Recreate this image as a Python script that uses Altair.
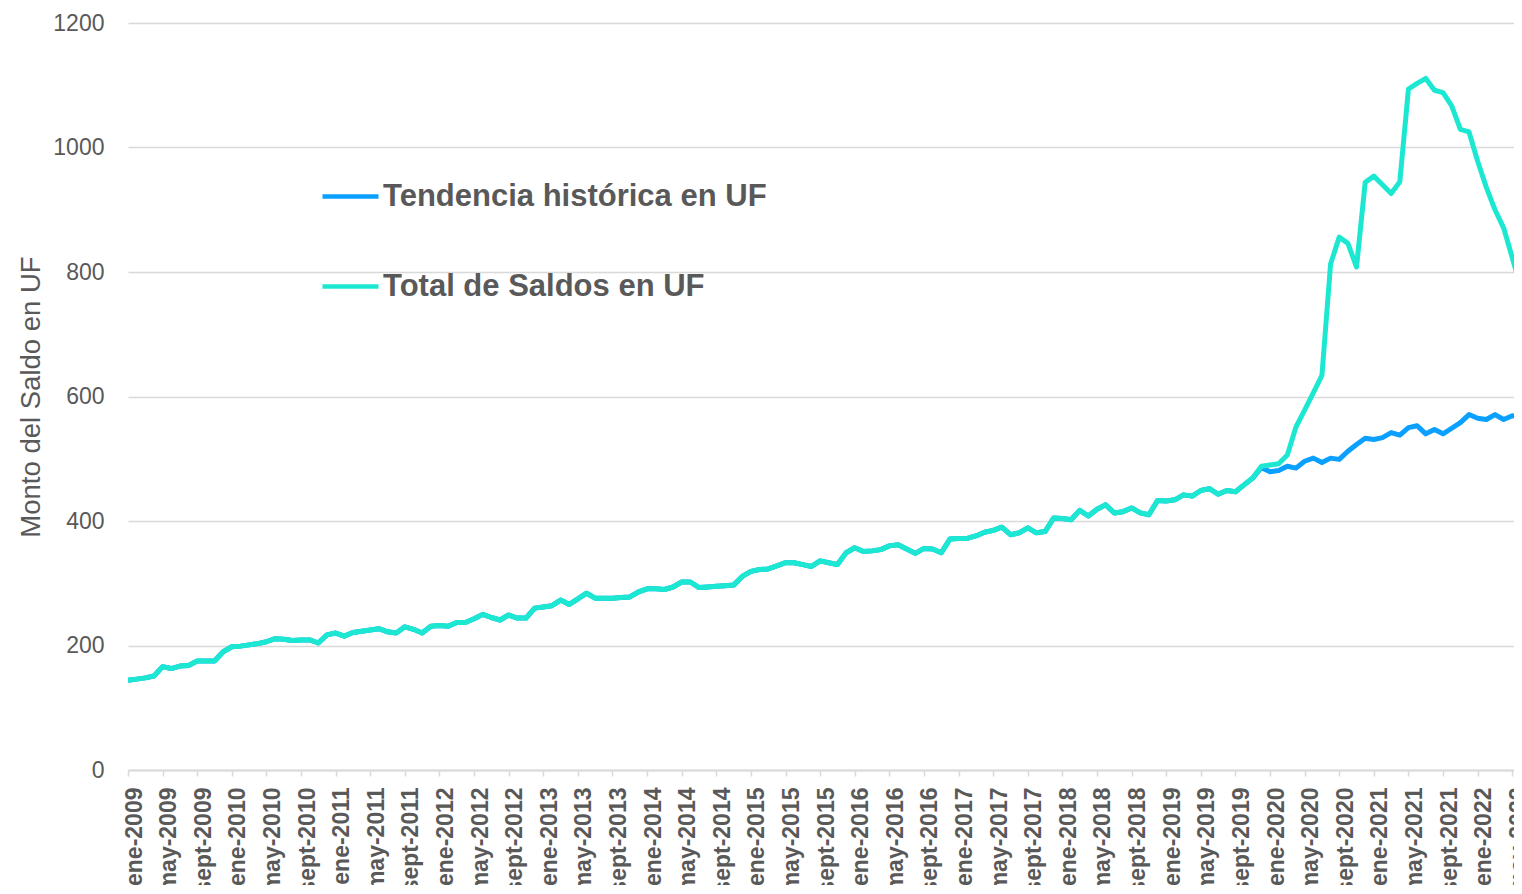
import json
import altair as alt
import pandas as pd

# Monthly balances, ene-2009 onward (index 0 = ene-2009)
total_saldos = [
    144, 146, 148, 151, 166, 163, 167, 168, 175, 175, 175, 190,   # 2009
    198, 199, 201, 203, 206, 211, 210, 208, 209, 209, 204, 217,   # 2010
    220, 215, 221, 223, 225, 227, 222, 220, 230, 226, 220, 231,   # 2011
    232, 231, 237, 237, 243, 250, 245, 241, 249, 244, 244, 260,   # 2012
    262, 264, 273, 266, 275, 284, 276, 276, 276, 277, 278, 286,   # 2013
    291, 291, 290, 294, 302, 302, 293, 294, 295, 296, 297, 311,   # 2014
    319, 322, 323, 328, 333, 333, 330, 327, 336, 333, 330, 349,   # 2015
    357, 351, 352, 354, 360, 362, 355, 348, 356, 355, 349, 371,   # 2016
    372, 372, 376, 382, 385, 390, 378, 381, 389, 381, 383, 405,   # 2017
    404, 402, 417, 408, 419, 426, 413, 415, 421, 413, 410, 433,   # 2018
    432, 434, 442, 440, 449, 452, 443, 449, 447, 458, 469, 488,   # 2019
    490, 492, 506, 551, 578, 606, 634, 813, 856, 846, 808, 944,   # 2020
    954, 940, 926, 945, 1094, 1103, 1111, 1092, 1088, 1067, 1029, 1025,  # 2021
    978, 936, 900, 871, 823, 775,                                  # 2022
]

# Historical trend: identical to the total until dic-2019, then its own path
tendencia_desde_dic2019 = [
    486, 479, 481, 488, 485, 496, 501, 494, 501, 499, 512, 523,
    533, 531, 534, 542, 538, 550, 553, 540, 547, 540, 549, 558,
    571, 565, 563, 571, 563, 569, 567,
]
tendencia = total_saldos[:131] + tendencia_desde_dic2019

mes_abrev = ["ene", "may", "sept"]
anios = list(range(2009, 2023))
tick_labels = [f"{m}-{a}" for a in anios for m in mes_abrev][:41]

serie_tend = "Tendencia histórica en UF"
serie_total = "Total de Saldos en UF"

df = pd.DataFrame(
    [{"m": i, "v": v, "serie": serie_tend} for i, v in enumerate(tendencia)]
    + [{"m": i, "v": v, "serie": serie_total} for i, v in enumerate(total_saldos)]
)

FONT = "Liberation Sans"
GREY = "#595959"

color = alt.Color(
    "serie:N",
    scale=alt.Scale(domain=[serie_tend, serie_total], range=["#0AA0FF", "#1CE8D2"]),
    legend=alt.Legend(
        title=None,
        orient="none",
        legendX=192,
        legendY=143,
        direction="vertical",
        symbolType="stroke",
        symbolSize=3136,
        symbolStrokeWidth=4.5,
        labelFontSize=31,
        labelFontWeight="bold",
        labelColor=GREY,
        labelFont=FONT,
        labelOffset=2,
        rowPadding=44,
        padding=0,
        labelLimit=700,
    ),
)

x = alt.X(
    "m:Q",
    scale=alt.Scale(domain=[0, 160.2], nice=False, zero=False),
    axis=alt.Axis(
        values=list(range(0, 161, 4)),
        labelExpr=f"{json.dumps(tick_labels)}[round(datum.value / 4)]",
        labelAngle=-90,
        labelFontSize=23,
        labelFontWeight="bold",
        labelColor=GREY,
        labelFont=FONT,
        labelPadding=11,
        labelOffset=6,
        labelFlush=False,
        labelOverlap=False,
        labelBound=False,
        tickSize=6,
        tickColor="#d9d9d9",
        tickWidth=1.5,
        domainColor="#d9d9d9",
        domainWidth=2,
        grid=False,
        title=None,
    ),
)

y = alt.Y(
    "v:Q",
    scale=alt.Scale(domain=[0, 1200], nice=False),
    axis=alt.Axis(
        values=[0, 200, 400, 600, 800, 1000, 1200],
        format="d",
        grid=True,
        gridColor="#d9d9d9",
        gridWidth=1.5,
        domain=False,
        ticks=False,
        labelFontSize=23,
        labelColor=GREY,
        labelFont=FONT,
        labelPadding=24,
        title="Monto del Saldo en UF",
        titleFontSize=27.5,
        titleFontWeight="normal",
        titleColor=GREY,
        titleFont=FONT,
        titleAngle=-90,
        titleX=-89,
        titleY=373.5,
        titleAlign="center",
        titleBaseline="alphabetic",
    ),
)

base = alt.Chart(df)
line_tend = base.transform_filter(alt.datum.serie == serie_tend).mark_line(
    strokeWidth=5, clip=True, strokeJoin="round"
).encode(x=x, y=y, color=color)
line_total = base.transform_filter(alt.datum.serie == serie_total).mark_line(
    strokeWidth=5, clip=True, strokeJoin="round"
).encode(x=x, y=y, color=color)

chart = (
    alt.layer(line_tend, line_total)
    .properties(
        width=1386,
        height=747,
        autosize=alt.AutoSizeParams(type="none"),
        padding={"left": 120, "top": 15, "right": 0, "bottom": 115},
        background="white",
    )
    .configure_view(stroke=None)
)

chart.save("out.html", embed_options={"renderer": "svg", "actions": False})
